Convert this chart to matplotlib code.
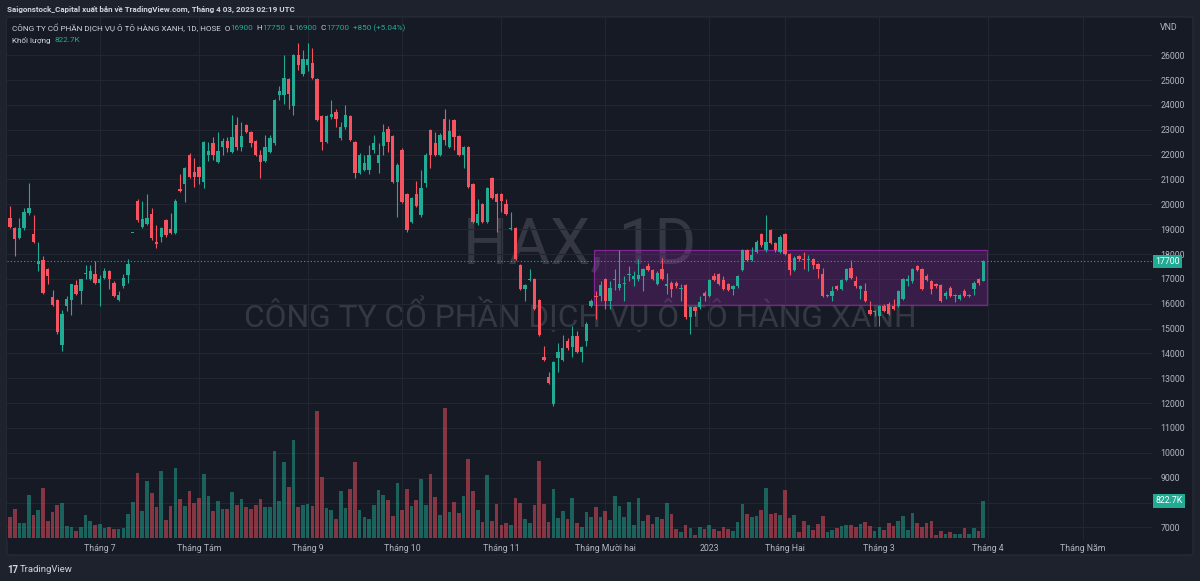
import numpy as np
import pandas as pd
import matplotlib
matplotlib.use('Agg')
import matplotlib.pyplot as plt
from matplotlib.patches import Rectangle, FancyBboxPatch
from matplotlib.transforms import blended_transform_factory

plt.rcParams['font.family'] = ['Roboto', 'DejaVu Sans']

# ---- data (HAX daily, 2022-06-06 .. 2023-03-31) ----
open_ = [19450, 19050, 18650, 19050, 19650, 18800, 17600, 17750, 17400, 16250,
         16150, 14350, 15900, 16150, 16750, 16500, 17200, 17000, 17200, 16850,
         17050, 17300, 16850, 16150, 16700, 17150, 18850, 20150, 19100, 19200,
         19600, 18500, 18700, 19350, 19000, 18850, 20600, 20800, 22000, 21300,
         21500, 20900, 22000, 22450, 21700, 22300, 22550, 22100, 23200, 22300,
         23200, 22900, 22550, 22000, 21750, 22100, 22450, 24400, 24400, 25050,
         23950, 26000, 25250, 25600, 25700, 25050, 23550, 22500, 23500, 23700,
         22650, 23100, 23550, 22500, 21250, 21400, 21400, 22200, 21650, 22350,
         23050, 22750, 20900, 22200, 20400, 19300, 20400, 19550, 20850, 23000,
         22450, 22000, 23450, 22300, 23400, 22750, 22000, 22300, 20800, 19250,
         20000, 19300, 21050, 20400, 20400, 20000, 19000, 19050, 17550, 16600,
         16950, 17000, 16150, 13850, 13050, 11950, 13800, 13750, 14500, 14250,
         14700, 14050, 14500, 15900, 16300, 16300, 17000, 16100, 16950, 16650,
         16800, 17150, 17000, 17000, 17100, 17500, 17350, 16800, 17400, 16700,
         16850, 16850, 16600, 16750, 15450, 15850, 15850, 16450, 16300, 17100,
         17200, 16950, 16800, 16600, 16700, 17350, 18150, 17750, 18100, 18800,
         18150, 18950, 18450, 18100, 18800, 18000, 17350, 17900, 17800, 17750,
         17800, 17600, 17200, 16300, 16300, 16700, 16600, 16950, 17450, 16900,
         16600, 16500, 15750, 15650, 15500, 15900, 16000, 15900, 15900, 16200,
         16900, 16900, 17500, 17400, 17100, 16900, 16800, 16750, 16300, 16650,
         16300, 16200, 16500, 16300, 16600, 17000, 16900]
high = [19950, 19100, 19450, 19850, 20850, 19550, 18500, 17900, 17450, 16550,
        16200, 15750, 16300, 16800, 16950, 17000, 17550, 17550, 17700, 17150,
        17450, 17350, 16900, 16500, 17200, 17800, 18850, 20200, 20150, 20400,
        19850, 19150, 19100, 19400, 19650, 20200, 21200, 21500, 22050, 21850,
        21550, 22550, 22500, 22700, 22900, 22650, 22700, 23600, 23500, 23300,
        23250, 22950, 22600, 22200, 22800, 22800, 24250, 24750, 26000, 25100,
        26050, 26500, 26200, 26500, 26300, 25100, 23600, 23600, 24200, 23850,
        23300, 24000, 23600, 22550, 22050, 22000, 22400, 22800, 22450, 23250,
        23150, 22800, 21650, 22250, 20450, 20300, 20950, 21400, 22050, 23050,
        22900, 22850, 23850, 23450, 23450, 22800, 22350, 22350, 20850, 20200,
        20050, 20700, 21100, 20450, 20450, 20200, 19700, 19100, 17600, 16800,
        17400, 17050, 16200, 14300, 13250, 13700, 14400, 14750, 14600, 15100,
        14900, 14300, 15250, 16200, 16500, 16900, 17050, 16900, 17400, 18150,
        17100, 17500, 17300, 17800, 17450, 17650, 17400, 17300, 17850, 17250,
        16900, 16900, 16800, 16800, 15900, 15900, 16300, 16500, 17000, 17250,
        17250, 17100, 16850, 16750, 17150, 18200, 18200, 18300, 18550, 18850,
        19550, 19000, 18500, 18750, 18850, 18050, 17900, 17950, 18100, 17950,
        17850, 17650, 17450, 16400, 16700, 16750, 17000, 17450, 17750, 17100,
        16750, 16850, 16100, 15750, 15950, 16000, 16050, 16200, 16550, 17050,
        17150, 17450, 17550, 17450, 17200, 16950, 16850, 16800, 16500, 16700,
        16400, 16400, 16600, 16400, 16900, 17050, 17750]
low = [19050, 17900, 18600, 18950, 19550, 18450, 17300, 16400, 16800, 15900,
       14800, 14100, 15700, 15550, 16350, 16000, 17000, 16950, 16800, 15900,
       17000, 16600, 16250, 16100, 16650, 16850, 18850, 19300, 19050, 19150,
       18550, 18250, 18500, 18700, 18800, 18800, 20500, 20100, 21050, 20700,
       20800, 20650, 21750, 21800, 21650, 22000, 22100, 22050, 22200, 22150,
       22850, 22300, 21950, 21050, 21700, 22050, 22400, 24200, 24050, 23850,
       23600, 25400, 25150, 25350, 25050, 23350, 22200, 22450, 23450, 23100,
       22600, 23050, 22550, 21050, 21200, 21350, 21200, 22050, 21250, 22000,
       22100, 20850, 19500, 20050, 18900, 19250, 19900, 19500, 20700, 21450,
       21950, 21950, 22400, 22250, 22200, 21950, 21450, 20650, 19250, 19150,
       19250, 19250, 20200, 18900, 19700, 19550, 18950, 17750, 16550, 16100,
       16900, 15750, 14700, 13700, 12750, 11900, 13250, 13700, 14150, 13850,
       14000, 13650, 14300, 15850, 15400, 16100, 15800, 15800, 16550, 16550,
       16100, 16900, 16700, 16900, 16500, 17300, 16950, 16750, 16950, 16400,
       16250, 16650, 16100, 15400, 14800, 15500, 15800, 16100, 16250, 16900,
       16750, 16550, 16500, 16350, 16650, 17300, 17700, 17700, 18050, 18300,
       18100, 18400, 18100, 18050, 17950, 17150, 17300, 17700, 17400, 17300,
       17400, 17050, 16250, 16250, 16100, 16550, 16550, 16900, 17000, 16650,
       16200, 16050, 15550, 15500, 15100, 15650, 15550, 15750, 15850, 16150,
       16700, 16850, 17300, 16550, 16900, 16400, 16650, 16050, 16200, 16250,
       16050, 16150, 16250, 16250, 16350, 16750, 16900]
close = [19100, 18600, 19050, 19700, 19850, 18500, 17700, 16450, 17100, 15950,
         14850, 15600, 16200, 16800, 16400, 17000, 17250, 17300, 16850, 17000,
         17300, 17000, 16300, 16350, 17050, 17600, 18850, 19350, 19400, 19450,
         18650, 18400, 19050, 18750, 18850, 20150, 20550, 21450, 21100, 21100,
         21100, 22500, 22150, 22000, 22150, 22550, 22250, 22700, 22300, 22750,
         22900, 22450, 22000, 21700, 22300, 22650, 24200, 24550, 25100, 24450,
         26000, 25600, 25850, 25850, 25100, 23400, 22500, 23550, 23650, 23450,
         23100, 23600, 22600, 21250, 22000, 21650, 22000, 22450, 22000, 22900,
         22500, 20900, 21600, 20100, 18950, 20250, 19950, 20650, 22000, 22000,
         22000, 22800, 22600, 22950, 22700, 22000, 22300, 20700, 19300, 19600,
         19300, 20650, 20250, 20100, 20150, 19600, 19050, 17800, 16600, 16750,
         17000, 15800, 14750, 13750, 12800, 13650, 14050, 14200, 14200, 14700,
         14050, 14250, 15200, 16100, 16250, 16750, 16100, 16650, 17000, 16800,
         16850, 17200, 17100, 17150, 17400, 17350, 17000, 17250, 17000, 16800,
         16600, 16700, 16650, 15450, 15850, 15700, 16050, 16300, 16950, 16950,
         16800, 16600, 16550, 16700, 17100, 18150, 17750, 17950, 18500, 18350,
         18500, 18450, 18150, 18700, 18000, 17350, 17850, 17800, 17750, 17800,
         17550, 17400, 16300, 16350, 16500, 16600, 16950, 17400, 17050, 16700,
         16700, 16100, 15600, 15700, 15900, 15700, 15600, 15800, 16500, 17000,
         17000, 17400, 17350, 16600, 16950, 16600, 16700, 16100, 16450, 16300,
         16350, 16350, 16300, 16350, 16850, 16850, 17700]
# volume in thousand shares
volume = [460, 645, 326, 341, 956, 519, 623, 1105, 385, 571,
          734, 771, 274, 252, 156, 237, 504, 385, 282, 311,
          222, 252, 208, 193, 222, 534, 808, 1446, 608, 1268,
          1001, 697, 1490, 400, 712, 1549, 867, 712, 1053, 786,
          882, 1423, 934, 608, 830, 645, 638, 1023, 734, 867,
          697, 645, 734, 860, 697, 682, 1935, 830, 1698, 1142,
          2179, 697, 727, 749, 719, 2832, 1349, 660, 615, 423,
          1053, 660, 1097, 1690, 615, 467, 423, 734, 1068, 956,
          845, 489, 1216, 615, 1097, 712, 845, 1312, 734, 1431,
          904, 512, 2899, 586, 808, 556, 941, 1757, 1053, 615,
          356, 1394, 385, 764, 285, 341, 282, 890, 778, 430,
          341, 734, 1720, 756, 356, 1082, 445, 608, 415, 897,
          341, 252, 571, 474, 697, 460, 600, 400, 941, 712,
          474, 808, 282, 882, 378, 504, 311, 474, 415, 771,
          534, 208, 141, 289, 222, 67, 252, 193, 282, 208,
          156, 245, 208, 156, 348, 749, 534, 460, 489, 630,
          1105, 526, 563, 519, 1068, 445, 504, 141, 378, 289,
          171, 304, 489, 141, 171, 222, 267, 289, 289, 237,
          304, 356, 259, 156, 245, 171, 326, 267, 371, 489,
          178, 563, 326, 252, 326, 385, 67, 156, 89, 126,
          82, 96, 222, 96, 222, 156, 822.7]

holidays = ['2022-09-01', '2022-09-02', '2023-01-02', '2023-01-20',
            '2023-01-23', '2023-01-24', '2023-01-25', '2023-01-26']
month_names = {(2022, 7): 'Tháng 7', (2022, 8): 'Tháng Tám', (2022, 9): 'Tháng 9',
               (2022, 10): 'Tháng 10', (2022, 11): 'Tháng 11', (2022, 12): 'Tháng Mười hai',
               (2023, 1): '2023', (2023, 2): 'Tháng Hai', (2023, 3): 'Tháng 3',
               (2023, 4): 'Tháng 4', (2023, 5): 'Tháng Năm'}
price_ticks = list(range(7000, 27000, 1000))

# rectangle drawn by the author (bar index / price)
box_x = (123.6, 206.8)
box_y = (15950, 18150)

# ---- calendar ----
days = pd.bdate_range('2022-06-06', '2023-05-31')
days = days[~days.isin(pd.to_datetime(holidays))]
n = len(close)
idx = np.arange(n)
tick_pos, tick_lab = [], []
for i in range(1, len(days)):
    if days[i].month != days[i - 1].month:
        key = (days[i].year, days[i].month)
        if key in month_names:
            tick_pos.append(i)
            tick_lab.append(month_names[key])

o = np.array(open_, float); h = np.array(high, float)
l = np.array(low, float); c = np.array(close, float)
v = np.array(volume, float)

UP, DN = '#22ab94', '#f7525f'
BG, OUT = '#161a25', '#1e222d'
TXT = '#b2b5be'
up = c >= o
col = np.where(up, UP, DN)

W, H = 1200, 581
fig = plt.figure(figsize=(12, 5.81), dpi=100, facecolor=OUT)
fx = lambda px: px / W
fy = lambda py: 1 - py / H

panel = FancyBboxPatch((fx(7), fy(555)), fx(1193) - fx(7), fy(17) - fy(555),
                       boxstyle='round,pad=0,rounding_size=0.003',
                       transform=fig.transFigure, fc=BG, ec='#2a2e39', lw=0.8, zorder=-5)
fig.patches.append(panel)

ax = fig.add_axes([fx(7), fy(540), fx(1152) - fx(7), fy(18) - fy(540)])
ax.set_facecolor(BG)
ax.set_xlim(-0.63, 241.7)
ax.set_ylim(6491, 27497)
for s in ax.spines.values():
    s.set_visible(False)
ax.set_yticks(price_ticks)
ax.set_yticklabels(['' if p == 8000 else str(p) for p in price_ticks])
ax.yaxis.tick_right()
ax.tick_params(axis='y', length=0, pad=6, labelsize=6.3, labelcolor=TXT)
ax.set_xticks(tick_pos)
ax.set_xticklabels(tick_lab)
ax.tick_params(axis='x', length=0, pad=3, labelsize=6.3, labelcolor=TXT)
ax.grid(True, color='#222632', lw=0.8)
ax.set_axisbelow(True)

# watermark
ax.text(fx(580), fy(246), 'HAX, 1D', transform=fig.transFigure, fontsize=46,
        color='#b2b5be', alpha=0.2, ha='center', va='center', zorder=0.5)
ax.text(fx(580), fy(315), 'CÔNG TY CỔ PHẦN DỊCH VỤ Ô TÔ HÀNG XANH', transform=fig.transFigure,
        fontsize=22.8, color='#b2b5be', alpha=0.2, ha='center', va='center', zorder=0.5)

# box
ax.add_patch(Rectangle((box_x[0], box_y[0]), box_x[1] - box_x[0], box_y[1] - box_y[0],
                       fc='#9c27b0', alpha=0.25, ec='none', zorder=1))
ax.add_patch(Rectangle((box_x[0], box_y[0]), box_x[1] - box_x[0], box_y[1] - box_y[0],
                       fc='none', ec='#9c27b0', lw=0.9, alpha=0.75, zorder=1))

# last price line
ax.axhline(c[-1], color=UP, lw=0.8, ls=(0, (1, 2)), zorder=1.5)

# candles
ax.vlines(idx, l, h, colors=col, lw=0.8, zorder=2)
body = np.maximum(np.abs(c - o), 40)
ax.bar(idx, body, bottom=np.minimum(o, c), width=0.7, color=col, lw=0, zorder=3)

# volume overlay
axv = fig.add_axes(ax.get_position(), sharex=ax)
axv.patch.set_visible(False)
axv.axis('off')
axv.set_ylim(-45, 11565)
axv.bar(idx, v, width=0.78, color=col, alpha=0.5, lw=0)

# price / volume tags
bt = blended_transform_factory(ax.transAxes, ax.transData)
ax.text(1.003, c[-1], f'{int(c[-1])}', transform=bt, ha='left', va='center', fontsize=6.3,
        color='white', bbox=dict(boxstyle='square,pad=0.25', fc=UP, ec='none'), zorder=5)
bv = blended_transform_factory(axv.transAxes, axv.transData)
axv.text(1.003, v[-1], f'{v[-1]:.1f}K', transform=bv, ha='left', va='center', fontsize=6.3,
         color='white', bbox=dict(boxstyle='square,pad=0.3', fc=UP, ec='none'), zorder=5,
         clip_on=False)
fig.text(fx(1160), fy(28), 'VND', fontsize=6.3, color=TXT, va='center')

# header rows
r = fig.canvas.get_renderer()
def row(x, y, parts, size, weight='normal'):
    for s, cc in parts:
        t = fig.text(fx(x), fy(y), s, color=cc, fontsize=size, va='center', ha='left',
                     fontweight=weight)
        x += t.get_window_extent(r).width

row(7, 9, [('Saigonstock_Capital xuất bản về TradingView.com, Tháng 4 03, 2023 02:19 UTC', '#d1d4dc')],
    5.8, 'bold')
chg = c[-1] - c[-2]
row(12, 28, [('CÔNG TY CỔ PHẦN DỊCH VỤ Ô TÔ HÀNG XANH, 1D, HOSE  O', '#d1d4dc'), (f'{int(o[-1])}', UP),
             ('  H', '#d1d4dc'), (f'{int(h[-1])}', UP), ('  L', '#d1d4dc'), (f'{int(l[-1])}', UP),
             ('  C', '#d1d4dc'), (f'{int(c[-1])}', UP),
             (f'  +{int(chg)} (+{chg / c[-2] * 100:.2f}%)', UP)], 5.9)
row(12, 40, [('Khối lượng  ', '#d1d4dc'), (f'{v[-1]:.1f}K', UP)], 5.9)

# footer logo
fig.text(fx(7), fy(570), '17', fontsize=7, color='#d1d4dc', fontweight='bold', va='center')
fig.text(fx(20), fy(570), 'TradingView', fontsize=6.8, color='#d1d4dc', va='center')

fig.savefig('out.png', dpi=100, facecolor=OUT)
